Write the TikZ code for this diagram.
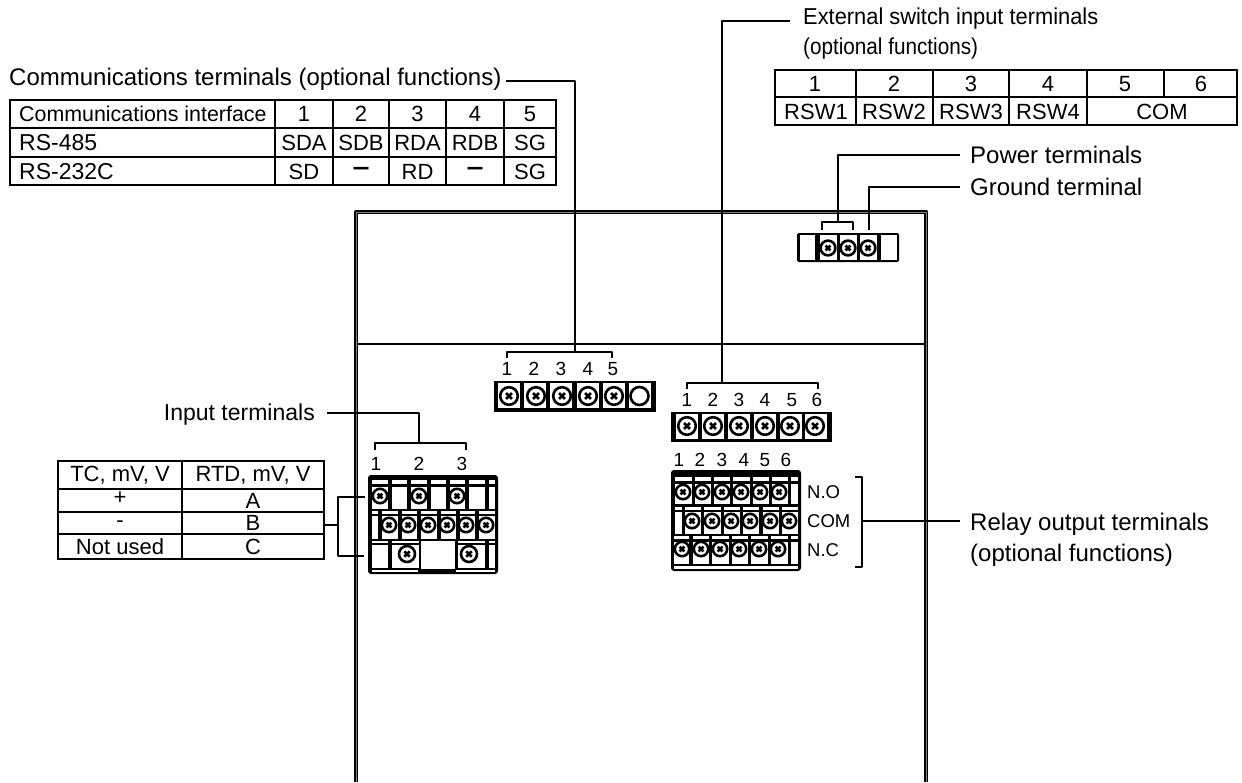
\documentclass[tikz,border=0pt]{standalone}
\usepackage{fontspec}
\setmainfont{Liberation Sans}
\tikzset{
  wire/.style={line width=2.1pt,line join=round,line cap=butt},
  lbl/.style={font=\fontsize{24}{28}\selectfont,anchor=west,inner sep=0pt,align=left},
  lblx/.style={font=\fontsize{23}{26}\selectfont,anchor=west,inner sep=0pt,align=left},
  cellt/.style={font=\fontsize{22}{24}\selectfont,inner sep=0pt,anchor=center},
  celltiny/.style={font=\fontsize{22}{24}\selectfont,inner sep=0pt,anchor=center,text height=7pt,text depth=0pt},
  celll/.style={font=\fontsize{23}{24}\selectfont,inner sep=0pt,anchor=west},
  cellh/.style={font=\fontsize{21.4}{24}\selectfont,inner sep=0pt,anchor=west},
  num/.style={font=\fontsize{19}{21}\selectfont,inner sep=0pt,anchor=center},
  rowl/.style={font=\fontsize{18.5}{21}\selectfont,inner sep=0pt,anchor=west},
  tbl/.style={line width=2pt},
  casing/.style={line width=4.4pt,line join=round},
  dashmark/.style={font=\fontsize{15}{18}\bfseries\selectfont,inner sep=0pt,anchor=center}
}
\newcommand{\scr}[3]{% x y radius
  \fill[white] (#1,#2) circle (#3);
  \draw[line width=2.6pt] (#1,#2) circle (#3);
  \draw[line width=2.5pt] (#1-#3*0.33,#2-#3*0.33) -- (#1+#3*0.33,#2+#3*0.33) (#1-#3*0.33,#2+#3*0.33) -- (#1+#3*0.33,#2-#3*0.33);
}
\newcommand{\wcell}[4]{\fill[white] (#1,#3) rectangle (#2,#4);}
\newcommand{\dsh}{\scalebox{1}[1.7]{—}}
\begin{document}
\begin{tikzpicture}[x=1pt,y=-1pt]
\useasboundingbox (0,0) rectangle (1242,782);
\fill[white] (0,0) rectangle (1242,782);

% casing
\draw[casing] (356,782) -- (356,212) -- (926,212) -- (926,782);
\draw[gray,line width=0.4pt] (356,782) -- (356,212) -- (926,212) -- (926,782);
\draw[line width=2.2pt] (358,344) -- (924,344);

% ---- communications table
\draw[tbl] (10,100) rectangle (556,185);
\foreach \y in {128,157} {\draw[tbl] (10,\y) -- (556,\y);}
\foreach \x in {275,333,389,446,504} {\draw[tbl] (\x,100) -- (\x,185);}
\node[cellh] (ci) at (19,114) {Communications interface};
\node[celll] (c485) at (19,143) {RS-485};
\node[celll] (c232) at (19,172) {RS-232C};
\foreach \x/\t/\n in {304/1/a,361/2/b,417.5/3/c,475/4/d,530/5/e} {\node[cellt] (ch\n) at (\x,114) {\t};}
\foreach \x/\t/\n in {304/SDA/a,361/SDB/b,417.5/RDA/c,475/RDB/d,530/SG/e} {\node[cellt] (cr\n) at (\x,143) {\t};}
\node[cellt] (csa) at (304,172) {SD};
\node[dashmark] (csb) at (361,171) {\dsh};
\node[cellt] (csc) at (417.5,172) {RD};
\node[dashmark] (csd) at (475,171) {\dsh};
\node[cellt] (cse) at (530,172) {SG};

% ---- external switch table
\draw[tbl] (775,70) rectangle (1237,125);
\draw[tbl] (775,97) -- (1237,97);
\foreach \x in {856,933,1009,1087} {\draw[tbl] (\x,70) -- (\x,125);}
\draw[tbl] (1164,70) -- (1164,97);
\foreach \x/\t/\n in {815/1/a,894/2/b,971/3/c,1048/4/d,1125/5/e,1201/6/f} {\node[cellt] (eh\n) at (\x,84) {\t};}
\foreach \x/\t/\n in {816/RSW1/a,894/RSW2/b,971/RSW3/c,1048/RSW4/d,1162/COM/e} {\node[cellt] (er\n) at (\x,112) {\t};}

% ---- input table
\draw[tbl] (58,461) rectangle (324,559);
\foreach \y in {489,512,534} {\draw[tbl] (58,\y) -- (324,\y);}
\draw[tbl] (182,461) -- (182,559);
\node[cellt] (ita) at (120,475) {TC, mV, V};
\node[cellt] (itb) at (253,475) {RTD, mV, V};
\node[celltiny] (ipa) at (120,501) {+};
\node[cellt] (ipb) at (253,501) {A};
\node[celltiny] (ima) at (120,524) {-};
\node[cellt] (imb) at (253,523) {B};
\node[cellt] (ina) at (120,547) {Not used};
\node[cellt] (inb) at (253,547) {C};

% ---- labels
\node[lbl] (lcomm) at (9,79) {Communications terminals (optional functions)};
\node[lblx] (lext) at (803,19) {\scalebox{0.95}[1]{External switch input terminals}};
\node[lblx] (lextb) at (803,49) {\scalebox{0.9}[1]{(optional functions)}};
\node[lbl] (lpow) at (970,155) {Power terminals};
\node[lbl] (lgnd) at (970,187) {Ground terminal};
\node[lbl,anchor=east,font=\fontsize{23}{26}\selectfont] (linp) at (315,415) {Input terminals};
\node[lbl] (lrel) at (970,524) {Relay output terminals};
\node[lbl] (lrelb) at (970,555) {(optional functions)};

% ---- connector coordinates
\coordinate (cs) at (506,81);
\coordinate (cj) at (575,81);
\coordinate (cb) at (575,352);
\coordinate (es) at (790,21);
\coordinate (ej) at (722,21);
\coordinate (eb) at (722,383);
\coordinate (pj) at (838,155);
\coordinate (pb) at (838,222);
\coordinate (pe) at (960,155);
\coordinate (gj) at (869,187);
\coordinate (gb) at (869,230);
\coordinate (ge) at (960,187);
\coordinate (is) at (327,413);
\coordinate (ij) at (419,413);
\coordinate (ib) at (419,443);

\draw[wire] (cs) -- (cj) -- (cb);
\draw[wire] (es) -- (ej) -- (eb);
\draw[wire] (pe) -- (pj) -- (pb);
\draw[wire] (ge) -- (gj) -- (gb);
\draw[wire] (is) -- (ij) -- (ib);
% brackets
\draw[wire] (507,358) -- (507,352) -- (612,352) -- (612,358);
\draw[wire] (687,389) -- (687,383) -- (818,383) -- (818,389);
\draw[wire] (822,230) -- (822,222) -- (853,222) -- (853,230);
\draw[wire] (375,450) -- (375,443) -- (466,443) -- (466,450);
% input fork
\draw[wire] (365,497) -- (338,497) -- (338,556) -- (364,556);
\draw[wire] (324,525) -- (338,525);
% relay bracket
\draw[wire] (855,477) -- (862,477) -- (862,567) -- (855,567);
\draw[wire] (862,521) -- (960,521);

% ---- power strip
\fill[black,rounded corners=1.5pt] (797,233) rectangle (899,262);
\fill[white] (799.5,235) rectangle (815,259.5);
\fill[white] (881,235) rectangle (896.5,259.5);
\foreach \x in {820,840,860} {\wcell{\x}{\x+17}{235}{259.5}}
\foreach \x in {828,848,868} {\scr{\x}{248}{7.4}}

% ---- communications strip
\fill[black] (494,381) rectangle (656,412);
\foreach \x in {509,535,561,588,614,640} {\wcell{\x-11}{\x+11}{383}{408}}
\foreach \x in {509,536,562,588,614} {\scr{\x}{396}{8.8}}
\fill[white] (639.5,396) circle (9);
\draw[line width=2.6pt] (639.5,396) circle (9);

% ---- external strip
\fill[black] (671,412) rectangle (832,442);
\foreach \x in {687,713,739,765,791,816} {\wcell{\x-11}{\x+11}{414}{439}}
\foreach \x in {687,713,739,765,790,815} {\scr{\x}{426}{8.8}}

% ---- input block
\fill[black,rounded corners=3pt] (368,475) rectangle (498,574);
\foreach \a/\b in {372/387.5,391.5/407,411/426.5,430.5/445.5,449.5/465,469/484.5,488.5/494.5} {
  \wcell{\a}{\b}{480}{484}
  \wcell{\a}{\b}{486.5}{508.5}
}
\foreach \a/\b in {372/377.5,381.5/397.5,401.5/416.5,420.5/436.5,440.5/455.5,459.5/474.5,478.5/494.5} {
  \wcell{\a}{\b}{511}{514}
  \wcell{\a}{\b}{516}{538.5}
}
\foreach \a/\b in {372/387.5,391.5/419,458/484.5,488.5/494.5} {
  \wcell{\a}{\b}{541}{543}
  \wcell{\a}{\b}{545}{567.5}
}
\wcell{421}{455}{541}{569}
\wcell{372}{418}{570}{572}
\wcell{456}{494.5}{570}{572}
\foreach \x in {380,419,457} {\scr{\x}{496}{7.2}}
\foreach \x in {389,408,428,447,466,486} {\scr{\x}{525}{7.2}}
\foreach \x in {407,469} {\scr{\x}{554}{8}}

% ---- relay block
\fill[black,rounded corners=3pt] (671,470) rectangle (801,571);
\foreach \a/\b in {675/691.5,694.5/710.5,714/729.5,733/749.5,752.5/768.5,772/787.5,791/797.5} {
  \wcell{\a}{\b}{477}{481}
  \wcell{\a}{\b}{483.5}{503.5}
}
\foreach \a/\b in {675/681.5,685/700.5,704/720.5,724/739.5,743/758.5,762.5/778.5,782/797.5} {
  \wcell{\a}{\b}{506.5}{509.5}
  \wcell{\a}{\b}{512}{533.5}
}
\foreach \a/\b in {674/688.5,692.5/708.5,712/728.5,732/747.5,751/767.5,771/787.5,791/797.5} {
  \wcell{\a}{\b}{536}{539}
  \wcell{\a}{\b}{541.5}{563.5}
}
\wcell{674}{797.5}{566}{568.5}
\foreach \x in {683,702,722,741,760,779} {\scr{\x}{492}{7.2}}
\foreach \x in {692,712,731,750,770,789} {\scr{\x}{521}{7.2}}
\foreach \x in {682,701,720,739,759,778} {\scr{\x}{549}{7.2}}

% ---- terminal numbers
\foreach \x/\t/\n in {507/1/a,534/2/b,561/3/c,588/4/d,613/5/e} {\node[num] (nc\n) at (\x,369) {\t};}
\foreach \x/\t/\n in {687/1/a,713/2/b,739/3/c,765/4/d,792/5/e,817/6/f} {\node[num] (ne\n) at (\x,400) {\t};}
\foreach \x/\t/\n in {679/1/a,700/2/b,722/3/c,744/4/d,765/5/e,786/6/f} {\node[num] (nr\n) at (\x,460) {\t};}
\foreach \x/\t/\n in {376/1/a,419/2/b,462/3/c} {\node[num] (ni\n) at (\x,464) {\t};}
\node[rowl] (no) at (807,492) {N.O};
\node[rowl] (com) at (807,521) {COM};
\node[rowl] (nc) at (807,550) {N.C};
\end{tikzpicture}
\end{document}
